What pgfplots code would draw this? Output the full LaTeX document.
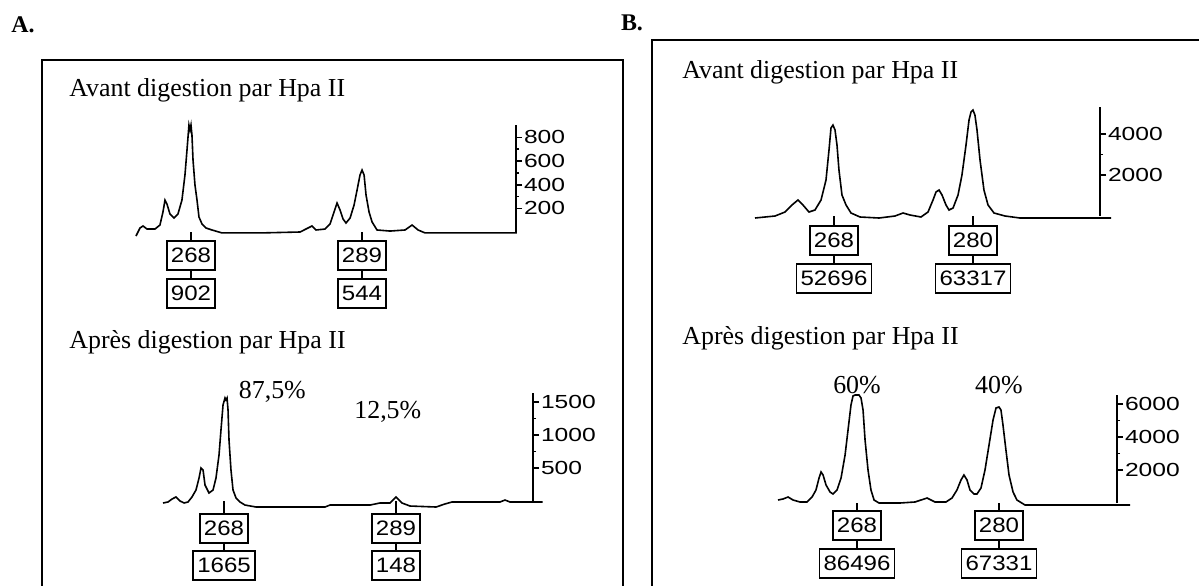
\documentclass[border=0pt]{standalone}
\usepackage{fontspec}
\setmainfont{Liberation Serif}
\newfontfamily\dig[FakeStretch=1.3]{Liberation Sans}
\newfontfamily\boxdig[FakeStretch=1.15]{Liberation Sans}
\usepackage{pgfplots}
\pgfplotsset{compat=1.18}

% electropherogram traces: x = fragment size (bp), y = fluorescence
\pgfplotsset{
  trace/.style={
    scale only axis, clip=false, anchor=south west,
    axis x line=none, axis y line=right,
    y axis line style={-, line width=1bp},
    ymin=0, tick align=outside,
    major tick length=3bp, minor tick length=1.5bp,
    tick style={black, line width=0.8bp},
    yticklabel style={font=\dig\fontsize{9.5}{10}\selectfont, inner xsep=0.8bp},
    /pgf/number format/1000 sep={},
    /pgf/number format/assume math mode=true,
  },
}
\tikzset{
  lbl/.style={draw, line width=0.9bp, inner xsep=2bp, inner ysep=0pt,
    minimum height=14.5bp, font=\boxdig\fontsize{10.5}{11}\selectfont},
  ttl/.style={anchor=west, inner sep=0pt, font=\fontsize{13}{15}\selectfont},
  pct/.style={inner sep=0pt, font=\fontsize{13}{15}\selectfont},
  cn/.style={line width=0.7bp},
}

\begin{document}
\begin{tikzpicture}
\useasboundingbox (0,0) rectangle (600bp,-293bp);

% panel frames
\draw[line width=1bp] (21bp,-293bp) -- (21bp,-30bp) -- (311.5bp,-30bp) -- (311.5bp,-293bp);
\draw[line width=1bp] (326bp,-293bp) -- (326bp,-20bp) -- (599.5bp,-20bp);
\node[font=\bfseries\fontsize{12}{14}\selectfont] at (11.5bp,-12.5bp) {A.};
\node[font=\bfseries\fontsize{12}{14}\selectfont] at (316bp,-11.5bp) {B.};

\node[ttl] at (34.5bp,-45bp) {Avant digestion par Hpa II};
\node[ttl] at (34.5bp,-171bp) {Après digestion par Hpa II};
\node[ttl] at (341bp,-36bp) {Avant digestion par Hpa II};
\node[ttl] at (341bp,-169bp) {Après digestion par Hpa II};

% A, before digestion
\begin{axis}[trace, at={(68bp,-116bp)}, width=190bp, height=53.5bp,
  xmin=261.25, xmax=307.9, ymax=905, ytick={200,400,600,800}, minor y tick num=1]
\addplot[black, line width=0.8bp] table {
261.25 -34
261.74 34
262.11 51
262.60 25
263.58 25
264.19 59
264.56 169
264.81 270
265.05 237
265.42 152
265.91 118
266.40 152
266.89 270
267.26 482
267.51 693
267.75 904
267.88 862
268.00 904
268.12 820
268.25 609
268.49 397
268.74 270
268.98 127
269.35 68
269.84 34
270.58 17
271.81 -8
276.47 -8
281.39 0
282.86 51
283.35 17
284.46 25
285.07 68
285.56 169
285.93 245
286.30 186
286.67 110
287.03 76
287.53 118
288.02 228
288.39 355
288.75 482
289.00 524
289.25 482
289.49 313
289.86 169
290.23 85
290.84 17
292.44 8
294.28 17
295.14 59
295.88 17
296.74 -8
308.00 -8
};
\draw[cn] (axis cs:268,0) -- ++(0pt,-4bp) node[lbl,anchor=north] (a1) {268};
\draw[cn] (a1.south) -- ++(0pt,-3.5bp) node[lbl,anchor=north] {902};
\draw[cn] (axis cs:289,0) -- ++(0pt,-4bp) node[lbl,anchor=north] (a2) {289};
\draw[cn] (a2.south) -- ++(0pt,-3.5bp) node[lbl,anchor=north] {544};
\end{axis}

% A, after digestion
\begin{axis}[trace, at={(81.5bp,-250.5bp)}, width=185bp, height=54bp,
  xmin=260.55, xmax=305.73, ymax=1636, ytick={500,1000,1500}, minor y tick num=1]
\addplot[black, line width=0.8bp] table {
260.55 -30
261.16 -15
261.65 30
262.14 61
262.63 0
263.12 -30
263.60 -15
264.09 61
264.58 167
264.95 348
265.19 500
265.44 470
265.68 242
266.17 121
266.66 167
267.02 348
267.39 697
267.63 1076
267.88 1455
268.12 1561
268.24 1530
268.37 1561
268.49 1379
268.61 924
268.85 470
269.10 167
269.47 45
269.95 -15
270.56 -61
271.91 -91
280.33 -91
280.94 -61
285.83 -61
287.05 -30
288.27 -30
289.00 61
289.73 -30
290.71 -76
293.89 -91
294.98 -45
295.84 -15
301.70 -15
302.31 15
302.92 -15
306.90 -15
};
\node[pct] at (axis cs:273.9,1652) {87,5\%};
\node[pct] at (axis cs:288.0,1348) {12,5\%};
\draw[cn] (axis cs:268,0) -- ++(0pt,-6bp) node[lbl,anchor=north] (a3) {268};
\draw[cn] (a3.south) -- ++(0pt,-3bp) node[lbl,anchor=north] {1665};
\draw[cn] (axis cs:289,0) -- ++(0pt,-6bp) node[lbl,anchor=north] (a4) {289};
\draw[cn] (a4.south) -- ++(0pt,-3bp) node[lbl,anchor=north] {148};
\end{axis}

% B, before digestion
\begin{axis}[trace, at={(377.5bp,-108bp)}, width=172.5bp, height=54.5bp,
  xmin=261.18, xmax=290.97, ymax=5320, ytick={2000,4000}, minor y tick num=1]
\addplot[black, line width=0.8bp] table {
261.18 -98
262.04 -49
262.91 0
263.77 195
264.37 537
264.89 780
265.32 537
265.84 195
266.36 293
266.88 780
267.31 1756
267.57 3220
267.74 4293
267.91 4439
268.09 4195
268.26 3463
268.43 2244
268.69 1024
269.04 537
269.47 146
270.25 -49
271.89 -98
273.27 0
273.96 146
274.56 49
275.51 -49
276.12 195
276.55 780
276.81 1171
277.07 1268
277.33 1024
277.67 537
277.93 293
278.28 390
278.71 1024
279.05 2000
279.40 3463
279.66 4683
279.83 5073
280.00 5171
280.17 4927
280.35 4195
280.61 2732
280.95 1268
281.30 537
281.82 146
282.77 0
284.06 -98
291.92 -98
};
\draw[cn] (axis cs:268,0) -- ++(0pt,-4.5bp) node[lbl,anchor=north] (b1) {268};
\draw[cn] (b1.south) -- ++(0pt,-3.5bp) node[lbl,anchor=north] {52696};
\draw[cn] (axis cs:280,0) -- ++(0pt,-4.5bp) node[lbl,anchor=north] (b2) {280};
\draw[cn] (b2.south) -- ++(0pt,-3.5bp) node[lbl,anchor=north] {63317};
\end{axis}

% B, after digestion
\begin{axis}[trace, at={(389bp,-251.5bp)}, width=169.5bp, height=54bp,
  xmin=261.32, xmax=289.98, ymax=6545, ytick={2000,4000,6000}, minor y tick num=1]
\addplot[black, line width=0.8bp] table {
261.32 182
261.74 242
262.17 364
262.59 182
263.18 61
263.77 61
264.20 364
264.53 788
264.79 1515
264.96 1879
265.13 1697
265.38 1091
265.72 667
265.97 545
266.31 788
266.65 1515
266.99 2909
267.24 4424
267.49 5939
267.66 6485
267.83 6545
268.17 6545
268.34 6364
268.51 5636
268.68 3818
268.93 2000
269.18 788
269.44 182
269.86 0
271.63 0
272.90 61
273.92 303
274.59 61
275.52 61
276.03 303
276.45 788
276.79 1394
277.04 1697
277.30 1394
277.55 788
277.89 545
278.14 545
278.48 909
278.82 2000
279.16 3515
279.50 5030
279.75 5758
280.00 5818
280.17 5636
280.34 4727
280.59 3212
280.85 1697
281.19 667
281.52 182
282.20 -121
291.08 -121
};
\node[pct] at (axis cs:268,7150) {60\%};
\node[pct] at (axis cs:280,7150) {40\%};
\draw[cn] (axis cs:268,0) -- ++(0pt,-3.5bp) node[lbl,anchor=north] (b3) {268};
\draw[cn] (b3.south) -- ++(0pt,-3.5bp) node[lbl,anchor=north] {86496};
\draw[cn] (axis cs:280,0) -- ++(0pt,-3.5bp) node[lbl,anchor=north] (b4) {280};
\draw[cn] (b4.south) -- ++(0pt,-3.5bp) node[lbl,anchor=north] {67331};
\end{axis}
\end{tikzpicture}
\end{document}
